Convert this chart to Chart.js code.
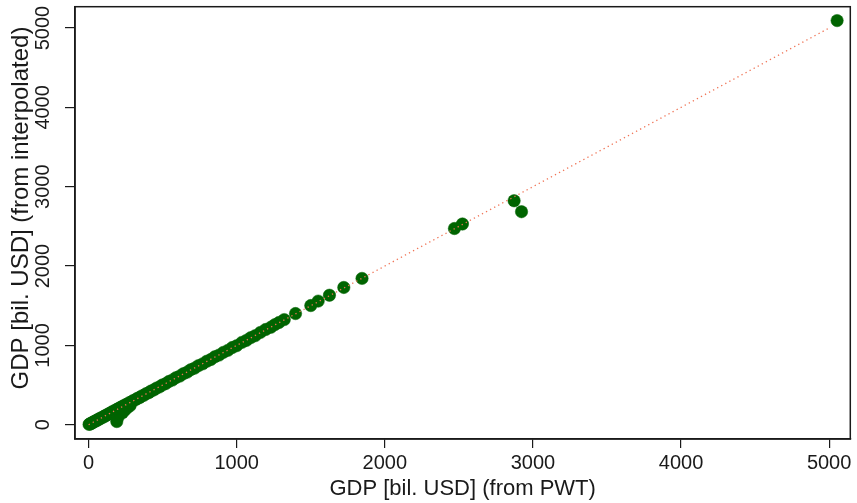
<!DOCTYPE html>
<html>
<head>
<meta charset="utf-8">
<script src="https://cdn.jsdelivr.net/npm/chart.js@4"></script>
<style>
  html, body { margin: 0; padding: 0; background: #fff; }
</style>
</head>
<body>
<canvas id="gdpChart" width="857" height="503"></canvas>
<script>
// GDP per country-year: PWT value vs. interpolated value (bil. USD)
const pwtGdp = [3, 8, 14, 20, 27, 33, 40, 48, 55, 62, 70, 78, 86, 95, 104, 112, 121, 130, 139, 148,
  157, 166, 175, 184, 190, 198, 212, 228, 245, 262, 280, 193, 202, 211, 220, 230, 240, 250, 262, 275,
  288, 300, 314, 328, 342, 357, 372, 388, 405, 422, 440, 458, 478, 498, 520, 542, 565, 590, 615, 640,
  665, 690, 715, 742, 770, 798, 825, 852, 880, 910, 940, 970, 1000, 1035, 1065, 1095, 1125, 1160, 1195, 1230,
  1258, 1285, 1321, 1397, 1500, 1550, 1626, 1723, 1846, 2470, 2524, 2873, 2923, 5054];
const interpGdp = [4, 10, 12, 22, 25, 35, 42, 46, 57, 60, 72, 77, 88, 93, 106, 110, 123, 128, 141, 146,
  160, 164, 178, 182, 40, 95, 140, 150, 185, 215, 240, 196, 200, 214, 218, 233, 238, 253, 260, 278,
  286, 303, 312, 331, 340, 360, 370, 391, 403, 425, 438, 461, 476, 501, 517, 545, 562, 593, 612, 643,
  662, 694, 712, 745, 767, 800, 822, 856, 877, 912, 937, 973, 996, 1038, 1062, 1098, 1122, 1163, 1200, 1228,
  1262, 1288, 1325, 1401, 1502, 1558, 1632, 1730, 1844, 2473, 2530, 2823, 2685, 5094];
const xTicks = [0, 1000, 2000, 3000, 4000, 5000];
const yTicks = [0, 1000, 2000, 3000, 4000, 5000];
const lineEnds = [0, 5000];   // 45-degree reference line

const xTitle = 'GDP [bil. USD] (from PWT)';
const yTitle = 'GDP [bil. USD] (from interpolated)';
const fontFamily = '"Liberation Sans", Arial, Helvetica, sans-serif';
const ink = '#1a1a1a';

const points = pwtGdp.map((x, i) => ({ x: x, y: interpGdp[i] }));
const refLine = lineEnds.map(v => ({ x: v, y: v }));

// frame + rotated y labels + axis titles
const axisText = {
  id: 'axisText',
  afterDraw(chart) {
    const { ctx, chartArea, scales } = chart;
    ctx.save();
    ctx.strokeStyle = ink;
    ctx.lineWidth = 1.5;
    ctx.strokeRect(chartArea.left, chartArea.top,
      chartArea.right - chartArea.left, chartArea.bottom - chartArea.top);

    ctx.fillStyle = ink;
    ctx.textAlign = 'center';
    ctx.textBaseline = 'middle';

    ctx.font = '20px ' + fontFamily;
    yTicks.forEach(v => {
      const py = scales.y.getPixelForValue(v);
      ctx.save();
      ctx.translate(43, py);
      ctx.rotate(-Math.PI / 2);
      ctx.fillText(String(v), 0, 0);
      ctx.restore();
    });

    ctx.font = '24px ' + fontFamily;
    ctx.save();
    ctx.translate(21, 208);
    ctx.rotate(-Math.PI / 2);
    ctx.fillText(yTitle, 0, 0);
    ctx.restore();

    ctx.font = '22px ' + fontFamily;
    ctx.fillText(xTitle, (chartArea.left + chartArea.right) / 2, 489);
    ctx.restore();
  }
};

new Chart(document.getElementById('gdpChart'), {
  type: 'scatter',
  data: {
    datasets: [{
      label: 'reference',
      data: refLine,
      showLine: true,
      borderColor: 'rgb(240, 115, 85)',
      borderWidth: 1.3,
      borderDash: [1.3, 3.3],
      pointRadius: 0,
      fill: false
    }, {
      label: 'GDP',
      data: points,
      backgroundColor: '#006400',
      borderColor: '#006400',
      borderWidth: 0.5,
      pointRadius: 6.2
    }]
  },
  plugins: [axisText],
  options: {
    responsive: false,
    animation: false,
    layout: { padding: { top: 5, right: 4, left: 0, bottom: 0 } },
    plugins: {
      legend: { display: false },
      tooltip: { enabled: false }
    },
    scales: {
      x: {
        type: 'linear',
        min: -92,
        max: 5143,
        afterFit: s => { s.height = 64; },
        afterBuildTicks: s => { s.ticks = xTicks.map(v => ({ value: v })); },
        ticks: {
          maxRotation: 0,
          autoSkip: false,
          padding: 3,
          color: ink,
          font: { family: fontFamily, size: 20 },
          callback: v => String(v)
        },
        grid: { drawOnChartArea: false, drawTicks: true, tickLength: 9, color: ink, lineWidth: 1.2 },
        border: { display: true, color: ink, width: 1.5 }
      },
      y: {
        type: 'linear',
        min: -180,
        max: 5269,
        afterFit: s => { s.width = 75; },
        afterBuildTicks: s => { s.ticks = yTicks.map(v => ({ value: v })); },
        ticks: { display: false },
        grid: { drawOnChartArea: false, drawTicks: true, tickLength: 10, color: ink, lineWidth: 1.2 },
        border: { display: true, color: ink, width: 1.5 }
      }
    }
  }
});
</script>
</body>
</html>
